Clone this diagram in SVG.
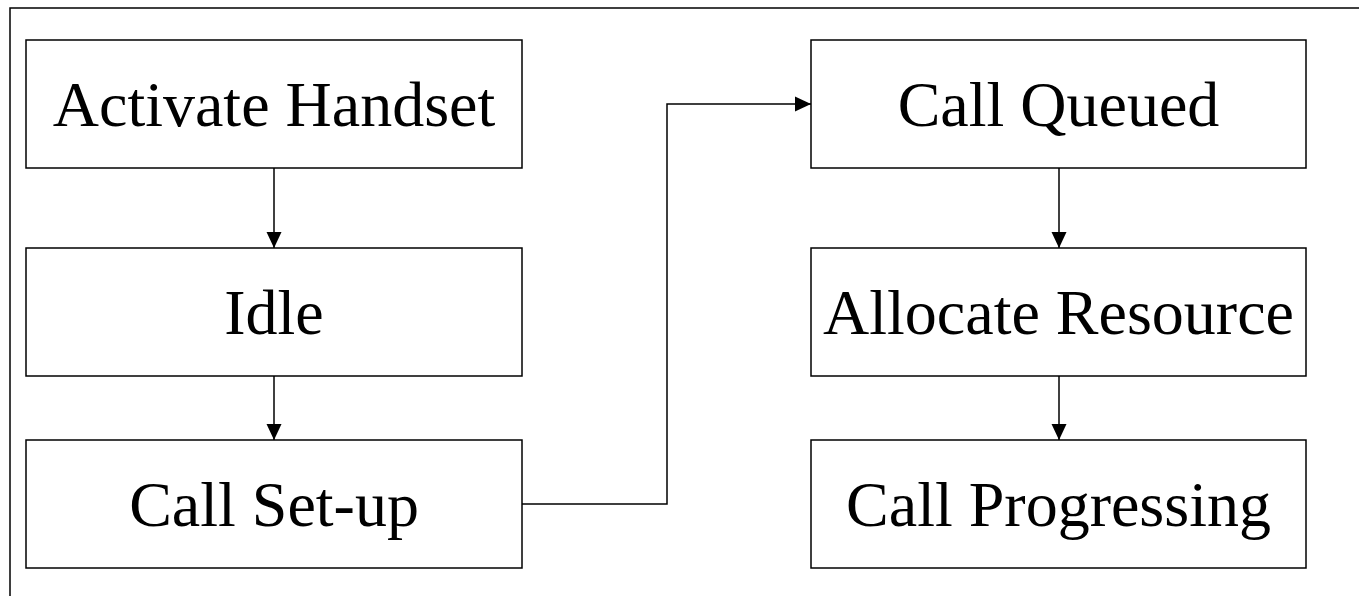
<svg xmlns="http://www.w3.org/2000/svg" width="1359" height="596" viewBox="0 0 1359 596">
  <style>
    .box { fill: #ffffff; stroke: #000000; stroke-width: 1.5; }
    .frame { fill: none; stroke: #000000; stroke-width: 1.5; }
    .label { font-family: "Liberation Serif", "Times New Roman", serif; font-size: 64px; fill: #000000; text-anchor: middle; }
    .edge { fill: none; stroke: #000000; stroke-width: 1.5; }
  </style>
  <defs>
    <marker id="arrow" markerUnits="userSpaceOnUse" markerWidth="16" markerHeight="16" viewBox="0 0 16 16" refX="16" refY="8" orient="auto">
      <path d="M0,0.5 L16,8 L0,15.5 Z" fill="#000000"/>
    </marker>
  </defs>
  <rect width="1359" height="596" fill="#ffffff"/>
  <!-- outer frame, running off the right and bottom edges -->
  <rect class="frame" x="10" y="8" width="1400" height="700"/>

  <g id="activate-handset">
    <rect class="box" x="26" y="40" width="496" height="128"/>
    <text class="label" x="274" y="126">Activate Handset</text>
  </g>
  <g id="idle">
    <rect class="box" x="26" y="248" width="496" height="128"/>
    <text class="label" x="274" y="334">Idle</text>
  </g>
  <g id="call-setup">
    <rect class="box" x="26" y="440" width="496" height="128"/>
    <text class="label" x="274" y="526">Call Set-up</text>
  </g>
  <g id="call-queued">
    <rect class="box" x="811" y="40" width="495" height="128"/>
    <text class="label" x="1058.5" y="126">Call Queued</text>
  </g>
  <g id="allocate-resource">
    <rect class="box" x="811" y="248" width="495" height="128"/>
    <text class="label" x="1058.5" y="334">Allocate Resource</text>
  </g>
  <g id="call-progressing">
    <rect class="box" x="811" y="440" width="495" height="128"/>
    <text class="label" x="1058.5" y="526">Call Progressing</text>
  </g>

  <g id="connectors">
    <path class="edge" d="M274,168 L274,248" marker-end="url(#arrow)"/>
    <path class="edge" d="M274,376 L274,440" marker-end="url(#arrow)"/>
    <path class="edge" d="M522,504 L667,504 L667,104 L811,104" marker-end="url(#arrow)"/>
    <path class="edge" d="M1059,168 L1059,248" marker-end="url(#arrow)"/>
    <path class="edge" d="M1059,376 L1059,440" marker-end="url(#arrow)"/>
  </g>
</svg>
